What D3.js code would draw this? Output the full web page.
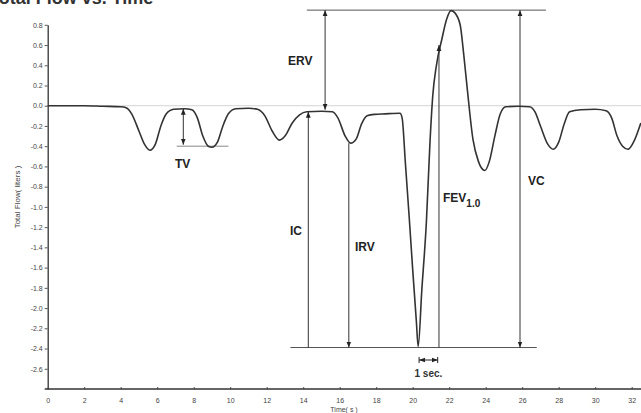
<!DOCTYPE html>
<html>
<head>
<meta charset="utf-8">
<script src="https://cdn.jsdelivr.net/npm/d3@7"></script>
<style>
body { margin:0; background:#fff; }
svg text { font-family: "Liberation Sans", Arial, sans-serif; }
</style>
</head>
<body>
<div id="chart"></div>
<script>
// Spirometry trace: time (s) vs total flow (liters)
var time = [0,2,3,4,4.3,4.6,5.0,5.3,5.6,5.9,6.2,6.5,6.9,7.5,7.9,8.2,8.5,8.8,9.0,9.3,9.6,9.9,10.3,11.0,11.5,11.9,12.3,12.7,13.0,13.4,13.8,14.2,15.0,15.6,15.9,16.3,16.6,16.9,17.2,17.5,17.9,18.5,19.3,19.42,19.6,19.8,20.0,20.2,20.3,20.5,20.75,20.95,21.1,21.3,21.6,21.85,22.1,22.3,22.6,22.8,23.0,23.3,23.6,23.95,24.2,24.5,24.8,25.1,25.8,26.4,26.7,27.0,27.4,27.7,28.0,28.3,28.6,29.2,30.0,30.6,30.9,31.2,31.5,31.8,32.1,32.5];
var flow = [0,0,-0.005,-0.01,-0.02,-0.08,-0.25,-0.38,-0.44,-0.38,-0.2,-0.08,-0.035,-0.03,-0.04,-0.12,-0.3,-0.4,-0.41,-0.36,-0.2,-0.08,-0.03,-0.025,-0.035,-0.1,-0.25,-0.34,-0.3,-0.17,-0.09,-0.06,-0.055,-0.06,-0.12,-0.3,-0.37,-0.33,-0.18,-0.1,-0.085,-0.08,-0.075,-0.12,-0.57,-1.08,-1.62,-2.13,-2.38,-1.82,-1.15,-0.35,0.1,0.4,0.66,0.85,0.94,0.92,0.8,0.5,0.15,-0.33,-0.55,-0.64,-0.55,-0.3,-0.08,-0.01,-0.005,-0.01,-0.06,-0.2,-0.38,-0.43,-0.36,-0.18,-0.06,-0.04,-0.035,-0.05,-0.12,-0.3,-0.4,-0.43,-0.36,-0.17];

var yTicks = [0.8,0.6,0.4,0.2,0.0,-0.2,-0.4,-0.6,-0.8,-1.0,-1.2,-1.4,-1.6,-1.8,-2.0,-2.2,-2.4,-2.6];
var xTicks = [0,2,4,6,8,10,12,14,16,18,20,22,24,26,28,30,32];

// annotation arrows: [time, from flow, to flow, heads]
var arrowLabels = ['TV','ERV','IC','IRV','FEV','VC'];
var arrowTime   = [7.43, 15.2, 14.28, 16.5, 21.44, 25.88];
var arrowFrom   = [-0.03, 0.945, -2.39, -0.37, -2.39, -2.39];
var arrowTo     = [-0.385, -0.04, -0.06, -2.39, 0.6, 0.945];
var arrowBoth   = [true, true, false, false, false, true];

var width = 641, height = 413;
var svg = d3.select('#chart').append('svg').attr('width', width).attr('height', height);

var x = d3.scaleLinear().domain([0, 32]).range([47.7, 631.7]);
var y = d3.scaleLinear().domain([-2.8, 0.8]).range([389, 24.8]);

var defs = svg.append('defs');
defs.append('marker').attr('id','ah').attr('viewBox','0 0 10 10')
    .attr('refX',10).attr('refY',5).attr('markerWidth',6).attr('markerHeight',6)
    .attr('orient','auto-start-reverse').attr('markerUnits','userSpaceOnUse')
    .append('path').attr('d','M0,1 L10,5 L0,9 Z').attr('fill','#222');

// cropped title
svg.append('text').attr('x',-11).attr('y',4).attr('font-size',18).attr('font-weight','bold')
    .attr('fill','#333').text('Total Flow vs. Time');

// zero line
svg.append('line').attr('x1',x(0)).attr('x2',width).attr('y1',y(0)).attr('y2',y(0))
    .attr('stroke','#d4d4d4').attr('stroke-width',1);

// axes
var fmt = function(d){ return d3.format('.1f')(d).replace('\u2212','-'); };
var gy = svg.append('g').attr('transform','translate(' + x(0) + ',0)')
    .call(d3.axisLeft(y).tickValues(yTicks).tickFormat(fmt).tickSize(3).tickSizeOuter(0));
gy.select('.domain').attr('stroke','#333').attr('stroke-width',1.3);
gy.selectAll('.tick line').attr('stroke','#555');
gy.selectAll('.tick text').attr('font-size',7).attr('fill','#444').attr('x',-5);

var gx = svg.append('g').attr('transform','translate(0,' + y(-2.8) + ')')
    .call(d3.axisBottom(x).tickValues(xTicks).tickFormat(d3.format('d')).tickSize(-2).tickSizeOuter(0));
gx.select('.domain').remove();
gx.append('line').attr('x1',x(0)-3).attr('x2',width).attr('stroke','#333').attr('stroke-width',1.3);
gx.selectAll('.tick line').attr('stroke','#555');
gx.selectAll('.tick text').attr('font-size',7).attr('fill','#444').attr('y',9);

svg.append('text').attr('transform','translate(20,197) rotate(-90)').attr('text-anchor','middle')
    .attr('font-size',8).attr('fill','#444').text('Total Flow( liters )');
svg.append('text').attr('x',344).attr('y',412).attr('text-anchor','middle')
    .attr('font-size',7).attr('fill','#444').text('Time( s )');

// reference lines
svg.append('line').attr('x1',x(14.2)).attr('x2',x(27.3)).attr('y1',y(0.945)).attr('y2',y(0.945))
    .attr('stroke','#555').attr('stroke-width',1);
svg.append('line').attr('x1',x(13.3)).attr('x2',x(26.8)).attr('y1',y(-2.39)).attr('y2',y(-2.39))
    .attr('stroke','#555').attr('stroke-width',1);
svg.append('line').attr('x1',x(7.07)).attr('x2',x(9.9)).attr('y1',y(-0.4)).attr('y2',y(-0.4))
    .attr('stroke','#888').attr('stroke-width',1);

// trace
var pts = time.map(function(t,i){ return [t, flow[i]]; });
svg.append('path').datum(pts)
    .attr('d', d3.line().x(function(d){return x(d[0]);}).y(function(d){return y(d[1]);}).curve(d3.curveMonotoneX))
    .attr('fill','none').attr('stroke','#333').attr('stroke-width',1.6);

// arrows
arrowTime.forEach(function(t,i){
    var l = svg.append('line').attr('x1',x(t)).attr('x2',x(t))
        .attr('y1',y(arrowFrom[i])).attr('y2',y(arrowTo[i]))
        .attr('stroke','#333').attr('stroke-width',1)
        .attr('marker-end','url(#ah)');
    if (arrowBoth[i]) l.attr('marker-start','url(#ah)');
});

// 1 sec marker
var sg = svg.append('g');
sg.append('line').attr('x1',x(20.35)).attr('x2',x(21.37)).attr('y1',360).attr('y2',360)
    .attr('stroke','#222').attr('stroke-width',1)
    .attr('marker-start','url(#ah)').attr('marker-end','url(#ah)');
[20.35,21.37].forEach(function(t){
    sg.append('line').attr('x1',x(t)).attr('x2',x(t)).attr('y1',357).attr('y2',363).attr('stroke','#222');
});
svg.append('text').attr('x',x(20.86)).attr('y',377).attr('text-anchor','middle')
    .attr('font-size',10).attr('font-weight','bold').attr('fill','#333').text('1 sec.');

// labels
var labPos = [[175,168],[288,65],[290,235],[355,251],[443,202],[528,185]];
arrowLabels.forEach(function(s,i){
    var t = svg.append('text').attr('x',labPos[i][0]).attr('y',labPos[i][1])
        .attr('font-size',12).attr('font-weight','bold').attr('fill','#222').text(s);
    if (s == 'FEV') t.append('tspan').attr('dy',5).attr('font-size',10).text('1.0');
});
</script>
</body>
</html>
